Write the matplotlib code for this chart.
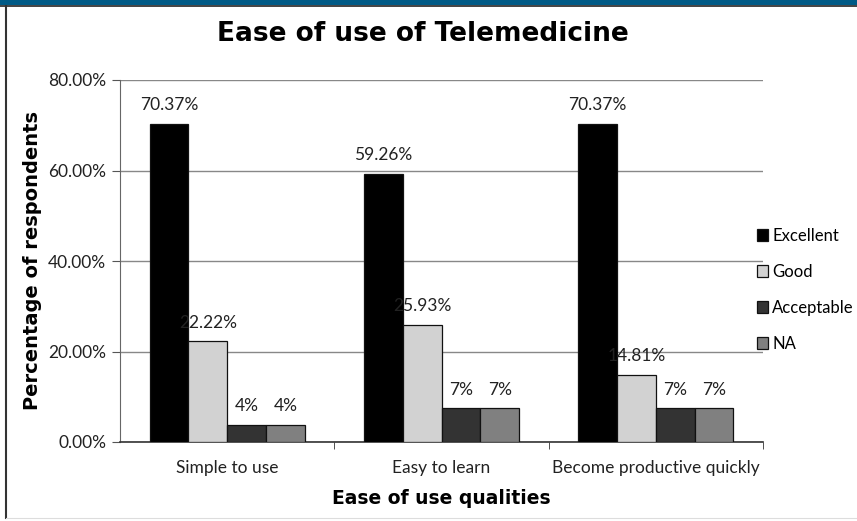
import numpy as np
import matplotlib
matplotlib.use('Agg')
import matplotlib.pyplot as plt
from matplotlib.patches import Rectangle
from matplotlib.lines import Line2D

# data
categories = ['Simple to use', 'Easy to learn', 'Become productive quickly']
series = ['Excellent', 'Good', 'Acceptable', 'NA']
excellent = [70.37, 59.26, 70.37]
good = [22.22, 25.93, 14.81]
acceptable = [3.70, 7.41, 7.41]
na = [3.70, 7.41, 7.41]
excellent_lbl = ['70.37%', '59.26%', '70.37%']
good_lbl = ['22.22%', '25.93%', '14.81%']
acceptable_lbl = ['4%', '7%', '7%']
na_lbl = ['4%', '7%', '7%']
yticks = [0, 20, 40, 60, 80]
ytick_labels = ['0.00%', '20.00%', '40.00%', '60.00%', '80.00%']

colors = ['#000000', '#d2d2d2', '#333333', '#808080']
values = [excellent, good, acceptable, na]
labels = [excellent_lbl, good_lbl, acceptable_lbl, na_lbl]

tick_font = 'Lato'
bold_font = 'DejaVu Sans'
fs = 12.5

fig = plt.figure(figsize=(8.57, 5.21), dpi=100)

# 顶部蓝色条和左边框
fig.patches.append(Rectangle((0, 1 - 5 / 521), 1, 5 / 521, transform=fig.transFigure,
                             facecolor='#005a86', edgecolor='none', zorder=0))
fig.add_artist(Line2D([0, 1], [1 - 5.5 / 521] * 2, transform=fig.transFigure, color='#222222', lw=1.2))
fig.add_artist(Line2D([5.5 / 857] * 2, [3 / 521, 1 - 5.5 / 521], transform=fig.transFigure,
                      color='#333333', lw=1.5))
fig.add_artist(Line2D([5.5 / 857, 1], [3 / 521] * 2, transform=fig.transFigure, color='#dddddd', lw=0.8))

ax = fig.add_axes([120 / 857, 1 - 442 / 521, (763 - 120) / 857, (442 - 80) / 521])

x = np.arange(len(categories))
w = 0.181
offsets = (np.arange(4) - 1.5) * w
for i in range(4):
    bars = ax.bar(x + offsets[i], values[i], w, color=colors[i], edgecolor='#111111',
                  linewidth=0.9, label=series[i], zorder=3)
    for b, t in zip(bars, labels[i]):
        ax.text(b.get_x() + b.get_width() / 2, b.get_height() + 2.4, t, ha='center', va='bottom',
                fontsize=fs, family=tick_font, color='#222222')

ax.set_xlim(-0.5, 2.5)
ax.set_ylim(0, 80)
ax.set_yticks(yticks)
ax.set_yticklabels(ytick_labels, family=tick_font, fontsize=fs, color='#222222')
ax.set_xticks([0, 1, 2])
ax.set_xticklabels(categories, family=tick_font, fontsize=fs, color='#222222')
ax.set_xticks([0.5, 1.5, 2.5], minor=True)
ax.tick_params(axis='x', which='major', length=0, pad=13)
ax.tick_params(axis='x', which='minor', length=5, direction='out', color='#333333')
ax.tick_params(axis='y', length=6, direction='out', color='#555555', pad=4)

ax.grid(axis='y', color='#888888', lw=1, zorder=0)
for s in ['top', 'right']:
    ax.spines[s].set_visible(False)
ax.spines['left'].set_color('#666666')
ax.spines['bottom'].set_color('#333333')
ax.spines['bottom'].set_linewidth(1.2)

ax.set_ylabel('Percentage of respondents', family=bold_font, fontweight='bold', fontsize=14,
              labelpad=4)
ax.set_xlabel('Ease of use qualities', family=bold_font, fontweight='bold', fontsize=13.5,
              labelpad=9)
fig.text(0.493, 1 - 34 / 521, 'Ease of use of Telemedicine', ha='center', va='center',
         family=bold_font, fontweight='bold', fontsize=19)

leg = ax.legend(loc='center left', bbox_to_anchor=(0.99, 0.42), frameon=False,
                prop={'family': tick_font, 'size': 12}, handlelength=0.7, handleheight=0.7,
                handletextpad=0.25, labelspacing=1.2, borderaxespad=0.0, borderpad=0)

plt.savefig('out.png', dpi=100, facecolor='white')
